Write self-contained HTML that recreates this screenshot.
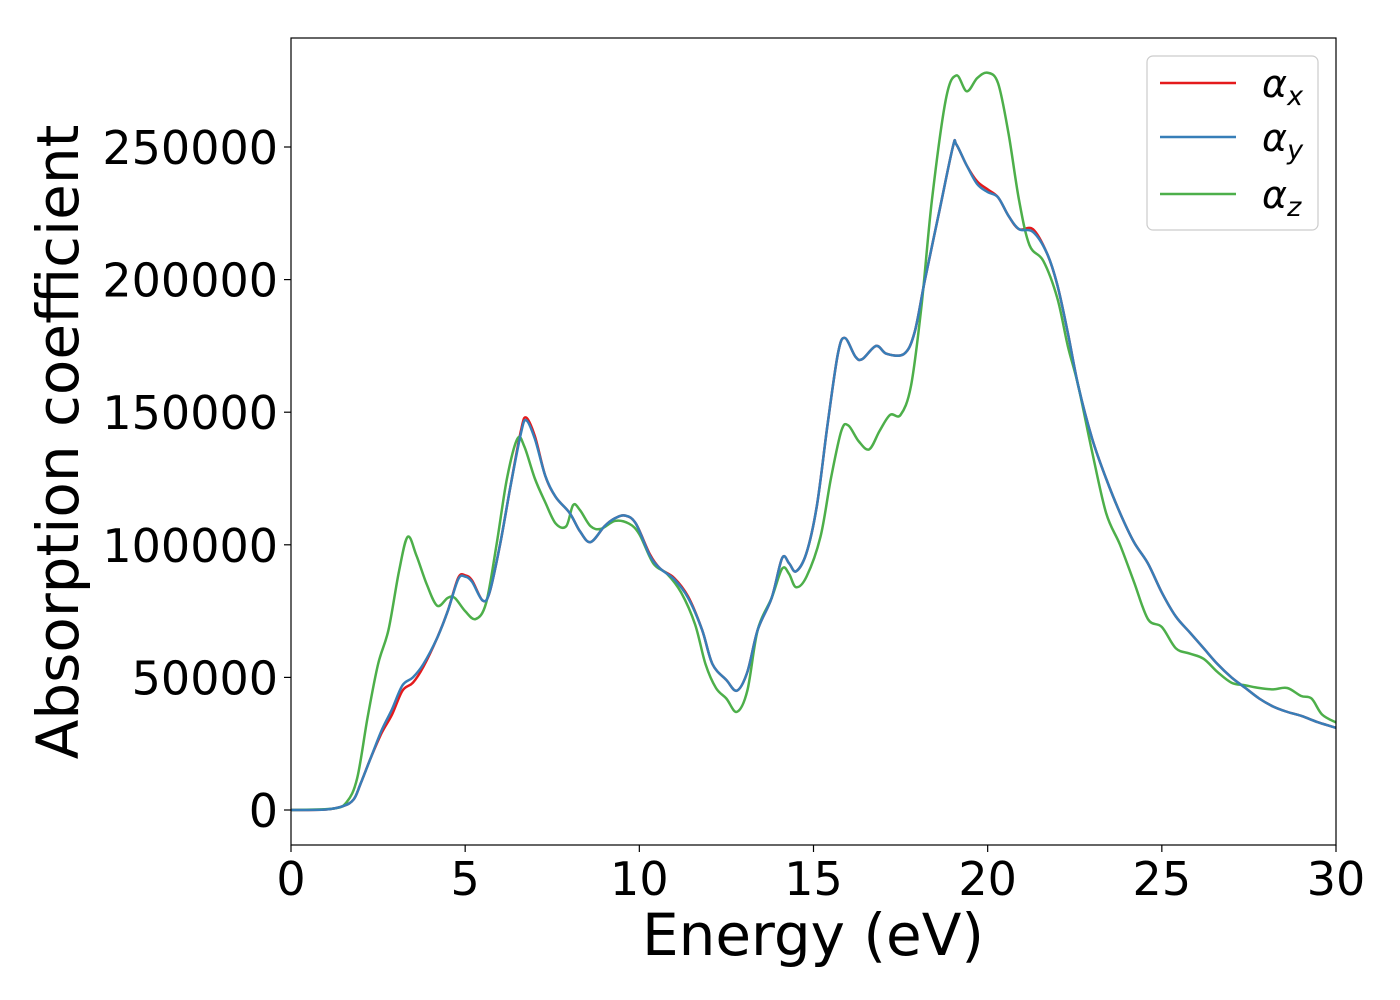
<!DOCTYPE html>
<html><head><meta charset="utf-8"><style>
html,body{margin:0;padding:0;background:#fff;}
svg{display:block;font-family:"DejaVu Sans","Liberation Sans",sans-serif;}
</style></head><body>
<svg id="chart" width="1400" height="1000" viewBox="0 0 1400 1000">
<g id="plot"></g>
<rect x="291" y="38" width="1045" height="807" fill="none" stroke="#000" stroke-width="1.2"/>
<g id="xticks"></g>
<g id="yticks"></g>
<text x="813" y="955" font-size="58" text-anchor="middle">Energy (eV)</text>
<text transform="translate(78,442) rotate(-90)" font-size="58" text-anchor="middle">Absorption coefficient</text>
<g>
<rect x="1147" y="56" width="171" height="174" rx="6" fill="#fff" fill-opacity="0.8" stroke="#ccc" stroke-width="1.2"/>
<line x1="1160" y1="83" x2="1236" y2="83" stroke="#e41a1c" stroke-width="2.5"/>
<text x="1262" y="97" font-size="38" font-style="italic">α<tspan font-size="27" dy="8">x</tspan></text>
<line x1="1160" y1="137" x2="1236" y2="137" stroke="#377eb8" stroke-width="2.5"/>
<text x="1262" y="151" font-size="38" font-style="italic">α<tspan font-size="27" dy="8">y</tspan></text>
<line x1="1160" y1="194" x2="1236" y2="194" stroke="#4daf4a" stroke-width="2.5"/>
<text x="1262" y="208" font-size="38" font-style="italic">α<tspan font-size="27" dy="8">z</tspan></text>
</g>
</svg>
<script>
const xTicks=[0,5,10,15,20,25,30];
const yTicks=[0,50000,100000,150000,200000,250000];
const blueE=[0,1,1.5,1.8,2.0,2.3,2.6,2.9,3.2,3.5,3.8,4.2,4.5,4.8,5.0,5.2,5.5,5.7,6.0,6.3,6.6,6.75,7.0,7.3,7.6,8.0,8.3,8.6,9.0,9.3,9.6,9.9,10.3,10.6,11.0,11.4,11.8,12.1,12.5,12.8,13.1,13.4,13.8,14.1,14.3,14.5,14.8,15.1,15.4,15.7,15.9,16.2,16.4,16.8,17.1,17.6,17.9,18.2,18.6,19.0,19.1,19.4,19.7,20.0,20.3,20.6,20.9,21.3,21.7,22.0,22.3,22.6,23.0,23.4,23.8,24.2,24.6,25.0,25.4,25.8,26.2,26.6,27.0,27.4,27.8,28.2,28.6,29.0,29.5,30];
const blueV=[0,200,1500,4000,10000,20000,30000,38000,47000,50000,55000,65000,75000,87000,88000,86000,79000,82000,100000,122000,142000,147000,140000,126000,118000,112000,105000,101000,107000,110000,111000,108000,96000,91000,87000,80000,68000,55000,49000,45000,52000,68000,80000,95000,93000,90000,97000,115000,145000,172000,178000,171000,170000,175000,172000,172000,180000,200000,225000,250000,251000,243000,236000,233000,231000,224000,219000,218000,210000,198000,180000,160000,140000,125000,112000,101000,93000,82000,73000,67000,61000,55000,50000,46000,42000,39000,37000,35500,33000,31000];
const redV=[0,200,1500,4000,10000,20000,29000,36000,45000,48000,54000,65000,75000,87500,88500,86500,79000,82000,100000,122000,143000,148000,141000,126000,118000,112000,105000,101000,107000,110000,111000,108000,96500,91000,87500,80500,68000,55000,49000,45000,52000,68000,80000,95000,93000,90000,97000,115000,145000,172000,178000,171000,170000,175000,172000,172000,180000,200000,225000,250000,251000,243000,237000,234000,231000,224000,219000,219000,210000,198000,180000,160000,140000,125000,112000,101000,93000,82000,73000,67000,61000,55000,50000,46000,42000,39000,37000,35500,33000,31000];
const greenE=[0,1.2,1.6,1.9,2.2,2.5,2.8,3.1,3.35,3.6,3.9,4.2,4.5,4.7,5.0,5.3,5.6,5.9,6.2,6.5,6.7,7.0,7.3,7.6,7.9,8.1,8.3,8.6,8.9,9.3,9.7,10.0,10.4,10.8,11.2,11.6,11.9,12.2,12.5,12.8,13.1,13.4,13.8,14.1,14.3,14.5,14.8,15.2,15.5,15.8,16.0,16.3,16.6,16.9,17.2,17.5,17.8,18.1,18.4,18.8,19.1,19.4,19.7,20.0,20.3,20.6,20.9,21.2,21.6,22.0,22.3,22.6,23.0,23.4,23.8,24.2,24.6,25.0,25.4,25.8,26.2,26.6,27.0,27.4,27.8,28.2,28.6,29.0,29.3,29.6,30];
const greenV=[0,500,3000,12000,35000,55000,68000,90000,103000,96000,85000,77000,80000,80000,75000,72000,78000,100000,125000,140000,137000,125000,116000,108000,107000,115000,113000,107000,106000,109000,108000,104000,93000,89000,82000,70000,55000,46000,42000,37000,45000,68000,80000,91000,89000,84000,88000,103000,125000,143000,145000,139000,136000,143000,149000,149000,160000,190000,230000,268000,277000,271000,276000,278000,274000,255000,230000,213000,207000,193000,175000,160000,135000,112000,100000,86000,72000,69000,61000,59000,57000,52000,48000,47000,46000,45500,46000,43000,42000,36000,33000];
const NS="http://www.w3.org/2000/svg";
const X=e=>291+e*(1045/30);
const Y=v=>810-v*(663/250000);
function mk(t,a,p){const el=document.createElementNS(NS,t);for(const k in a)el.setAttribute(k,a[k]);p.appendChild(el);return el;}
function path(xs,ys){
 const p=xs.map((e,i)=>[X(e),Y(ys[i])]);
 let d="M"+p[0][0]+","+p[0][1];
 for(let i=0;i<p.length-1;i++){
  const p0=p[i-1]||p[i],p1=p[i],p2=p[i+1],p3=p[i+2]||p2;
  const c1=[p1[0]+(p2[0]-p0[0])/6,p1[1]+(p2[1]-p0[1])/6];
  const c2=[p2[0]-(p3[0]-p1[0])/6,p2[1]-(p3[1]-p1[1])/6];
  d+=" C"+c1+" "+c2+" "+p2;
 }
 return d;
}
const plot=document.getElementById('plot');
const series=[[blueE,redV,'#e41a1c','series-alpha-x'],[greenE,greenV,'#4daf4a','series-alpha-z'],[blueE,blueV,'#377eb8','series-alpha-y']];
series.forEach(s=>{
 const el=mk('path',{d:path(s[0],s[1]),fill:'none',stroke:s[2],'stroke-width':2.5},plot);
 
 
});
const xg=document.getElementById('xticks');
xTicks.forEach(t=>{
 const l=mk('line',{x1:X(t),x2:X(t),y1:845,y2:852,stroke:'#000','stroke-width':1.2},xg);
 
 
 const tx=mk('text',{x:X(t),y:895,'font-size':46,'text-anchor':'middle'},xg);
 tx.textContent=t;
 
 
});
const yg=document.getElementById('yticks');
yTicks.forEach(t=>{
 const l=mk('line',{x1:284,x2:291,y1:Y(t),y2:Y(t),stroke:'#000','stroke-width':1.2},yg);
 
 
 const tx=mk('text',{x:278,y:Y(t)+17,'font-size':46,'text-anchor':'end'},yg);
 tx.textContent=t;
 
 
});
</script>
</body></html>
